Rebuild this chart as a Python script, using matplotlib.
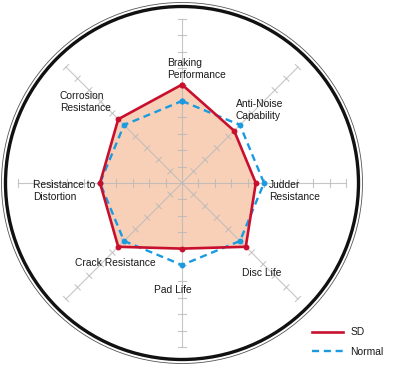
import numpy as np
import matplotlib
matplotlib.use("Agg")
import matplotlib.pyplot as plt
from matplotlib.patches import Circle
from matplotlib.lines import Line2D

plt.rcParams['font.family'] = ['Liberation Sans', 'DejaVu Sans']

# data (clockwise from top)
categories = ['Braking\nPerformance', 'Anti-Noise\nCapability', 'Judder\nResistance',
              'Disc Life', 'Pad Life', 'Crack Resistance',
              'Resistance to\nDistortion', 'Corrosion\nResistance']
sd_values = [6.0, 4.5, 4.5, 5.5, 4.0, 5.5, 5.0, 5.5]
normal_values = [5.0, 5.0, 5.0, 5.0, 5.0, 5.0, 5.0, 5.0]
series_names = ['SD', 'Normal']
r_max = 10

# label anchor points in pixels (left edge, top)
label_px = [(167, 58), (236, 99), (269, 180), (242, 268), (154, 285),
            (75, 258), (33, 180), (60, 91)]

W, H = 400, 366
cx, cy, unit = 182, 183, 16.4

fig = plt.figure(figsize=(W / 100, H / 100), dpi=100)
ax = fig.add_axes([0, 0, 1, 1])
ax.set_xlim(-cx / unit, (W - cx) / unit)
ax.set_ylim(-(H - cy) / unit, cy / unit)
ax.set_aspect('equal')
ax.axis('off')

n = len(categories)
angles = np.pi / 2 - np.arange(n) * 2 * np.pi / n

# outer rings
ax.add_patch(Circle((0, 0), 176.5 / unit, fill=False, ec='#111111', lw=2.4, zorder=1))
ax.add_patch(Circle((0, 0), 180.5 / unit, fill=False, ec='#555555', lw=0.6, zorder=1))

def to_xy(vals):
    v = np.array(vals + vals[:1])
    a = np.concatenate([angles, angles[:1]])
    return v * np.cos(a), v * np.sin(a)

# fill
sx, sy = to_xy(sd_values)
ax.fill(sx, sy, color='#f8d0b8', zorder=2, lw=0)

# spokes with cross ticks
tick_half = 0.22
for a in angles:
    ax.plot([0, r_max * np.cos(a)], [0, r_max * np.sin(a)],
            color='#b8b8b8', lw=0.8, alpha=0.8, zorder=3)
    px, py = -np.sin(a), np.cos(a)
    for r in range(1, r_max + 1):
        x0, y0 = r * np.cos(a), r * np.sin(a)
        ax.plot([x0 - tick_half * px, x0 + tick_half * px],
                [y0 - tick_half * py, y0 + tick_half * py],
                color='#b8b8b8', lw=0.8, alpha=0.8, zorder=3)

nx, ny = to_xy(normal_values)
ax.plot(nx, ny, color='#1a9be0', lw=1.7, ls=(0, (3, 2)), zorder=4,
        marker='o', ms=3.2, label=series_names[1])
ax.plot(sx, sy, color='#c8102e', lw=1.9, zorder=5,
        marker='o', ms=3.2, label=series_names[0])

for lab, (lx, ly) in zip(categories, label_px):
    fig.text(lx / W, 1 - ly / H, lab, ha='left', va='top', fontsize=7.4,
             color='#1a1a1a', linespacing=1.2)

handles = [Line2D([], [], color='#c8102e', lw=1.9),
           Line2D([], [], color='#1a9be0', lw=1.7, ls=(0, (3, 2)))]
leg = ax.legend(handles, series_names, loc='upper left',
                bbox_to_anchor=(307 / W, 1 - 322 / H), frameon=False,
                fontsize=7.4, handlelength=3.0, handletextpad=0.7,
                labelspacing=0.95, borderpad=0)
for t in leg.get_texts():
    t.set_color('#1a1a1a')

fig.savefig('out.png', dpi=100, facecolor='white')
